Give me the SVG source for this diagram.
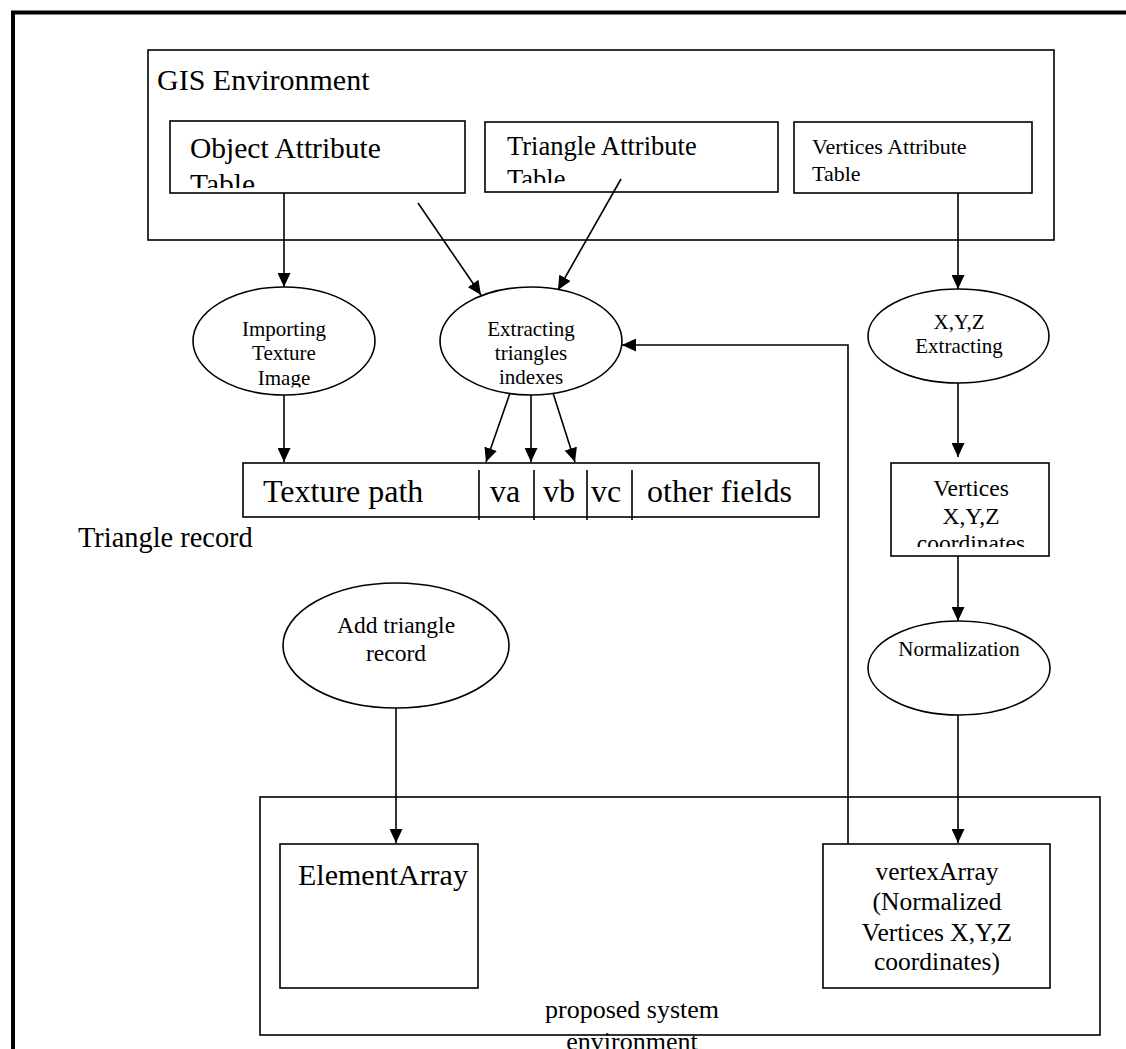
<svg xmlns="http://www.w3.org/2000/svg" width="1126" height="1049" viewBox="0 0 1126 1049">
  <style>
    text { font-family: "Liberation Serif", "Times New Roman", serif; fill: #000; }
    .box { fill: #fff; stroke: #000; stroke-width: 1.6; }
    .frame { fill: none; stroke: #000; stroke-width: 1.6; }
    .conn { fill: none; stroke: #000; stroke-width: 1.6; }
    .arrow { stroke: #000; stroke-width: 1.6; fill: none; marker-end: url(#head); }
    .mid { text-anchor: middle; }
  </style>
  <defs>
    <marker id="head" viewBox="0 0 14 13" refX="14" refY="6.5" markerWidth="14" markerHeight="13" markerUnits="userSpaceOnUse" orient="auto">
      <path d="M0,0 L14,6.5 L0,13 Z" fill="#000"/>
    </marker>
    <clipPath id="clipObj"><rect x="170" y="121" width="294" height="67"/></clipPath>
    <clipPath id="clipTri"><rect x="485" y="122" width="293" height="61"/></clipPath>
    <clipPath id="clipImp"><rect x="190" y="290" width="190" height="97.5"/></clipPath>
    <clipPath id="clipVert"><rect x="891" y="463" width="158" height="84"/></clipPath>
  </defs>

  <rect width="1126" height="1049" fill="#fff"/>

  <!-- page frame (open on the right and bottom) -->
  <path d="M13,1049 V12.5 H1126" fill="none" stroke="#000" stroke-width="4"/>

  <!-- GIS environment container -->
  <g id="gis-environment">
    <rect class="frame" x="148" y="50" width="906" height="190"/>
    <text x="157" y="90" font-size="30">GIS Environment</text>
  </g>

  <g id="object-attribute-table">
    <rect class="box" x="170" y="121" width="295" height="72"/>
    <g clip-path="url(#clipObj)" font-size="29.5">
      <text x="190" y="158">Object Attribute</text>
      <text x="190" y="194">Table</text>
    </g>
  </g>

  <g id="triangle-attribute-table">
    <rect class="box" x="485" y="122" width="293" height="70"/>
    <g clip-path="url(#clipTri)" font-size="26.5">
      <text x="507" y="155">Triangle Attribute</text>
      <text x="507" y="188">Table</text>
    </g>
  </g>

  <g id="vertices-attribute-table">
    <rect class="box" x="794" y="122" width="238" height="71"/>
    <g font-size="22">
      <text x="812" y="154">Vertices Attribute</text>
      <text x="812" y="181">Table</text>
    </g>
  </g>

  <!-- processes -->
  <g id="importing-texture-image">
    <ellipse class="box" cx="284" cy="341" rx="91" ry="54"/>
    <g clip-path="url(#clipImp)" font-size="21">
      <text class="mid" x="284" y="336">Importing</text>
      <text class="mid" x="284" y="360">Texture</text>
      <text class="mid" x="284" y="385">Image</text>
    </g>
  </g>

  <g id="extracting-triangles-indexes">
    <ellipse class="box" cx="531" cy="341" rx="91" ry="54"/>
    <g font-size="21">
      <text class="mid" x="531" y="336">Extracting</text>
      <text class="mid" x="531" y="360">triangles</text>
      <text class="mid" x="531" y="384">indexes</text>
    </g>
  </g>

  <g id="xyz-extracting">
    <ellipse class="box" cx="958.5" cy="336" rx="90.5" ry="47"/>
    <g font-size="21">
      <text class="mid" x="959" y="329">X,Y,Z</text>
      <text class="mid" x="959" y="353">Extracting</text>
    </g>
  </g>

  <!-- triangle record layout -->
  <g id="triangle-record">
    <rect class="box" x="243" y="463" width="576" height="54"/>
    <path class="conn" d="M479,470 V520 M534,470 V520 M587,470 V520 M632,470 V520"/>
    <g font-size="32">
      <text x="263" y="502">Texture path</text>
      <text x="490" y="502">va</text>
      <text x="543" y="502">vb</text>
      <text x="591" y="502">vc</text>
      <text x="647" y="502">other fields</text>
    </g>
  </g>
  <text id="triangle-record-label" x="78" y="547" font-size="28.4">Triangle record</text>

  <g id="vertices-xyz-coordinates">
    <rect class="box" x="891" y="463" width="158" height="93"/>
    <g clip-path="url(#clipVert)" font-size="23.5">
      <text class="mid" x="971" y="496">Vertices</text>
      <text class="mid" x="971" y="524">X,Y,Z</text>
      <text class="mid" x="971" y="551">coordinates</text>
    </g>
  </g>

  <g id="normalization">
    <ellipse class="box" cx="959" cy="668" rx="91" ry="47"/>
    <text class="mid" x="959" y="656" font-size="21">Normalization</text>
  </g>

  <g id="add-triangle-record">
    <ellipse class="box" cx="396" cy="645.5" rx="113" ry="62.5"/>
    <g font-size="23.5">
      <text class="mid" x="396" y="633">Add triangle</text>
      <text class="mid" x="396" y="661">record</text>
    </g>
  </g>

  <!-- proposed system container -->
  <g id="proposed-system-environment">
    <rect class="frame" x="260" y="797" width="840" height="238"/>
    <g font-size="26">
      <text class="mid" x="632" y="1018">proposed system</text>
      <text class="mid" x="632" y="1050">environment</text>
    </g>
  </g>

  <g id="element-array">
    <rect class="box" x="280" y="844" width="198" height="144"/>
    <text x="298" y="885" font-size="30">ElementArray</text>
  </g>

  <g id="vertex-array">
    <rect class="box" x="823" y="844" width="227" height="144"/>
    <g font-size="25.5">
      <text class="mid" x="937" y="880">vertexArray</text>
      <text class="mid" x="937" y="910">(Normalized</text>
      <text class="mid" x="937" y="941">Vertices X,Y,Z</text>
      <text class="mid" x="937" y="970">coordinates)</text>
    </g>
  </g>

  <!-- connectors -->
  <g id="connectors">
    <line class="arrow" x1="284" y1="193" x2="284" y2="287"/>
    <line class="arrow" x1="418" y1="203" x2="481" y2="295"/>
    <line class="arrow" x1="621" y1="179" x2="558" y2="290"/>
    <line class="arrow" x1="958" y1="193" x2="958" y2="289"/>
    <line class="arrow" x1="284" y1="395" x2="284" y2="462"/>
    <line class="arrow" x1="510" y1="393" x2="486" y2="462"/>
    <line class="arrow" x1="531" y1="395" x2="531" y2="462"/>
    <line class="arrow" x1="553" y1="393" x2="575" y2="462"/>
    <line class="arrow" x1="958" y1="383" x2="958" y2="457"/>
    <line class="arrow" x1="958" y1="556" x2="958" y2="621"/>
    <line class="arrow" x1="396" y1="708" x2="396" y2="843"/>
    <line class="arrow" x1="958" y1="715" x2="958" y2="843"/>
    <polyline class="arrow" points="848,844 848,345 622,345"/>
  </g>
</svg>
